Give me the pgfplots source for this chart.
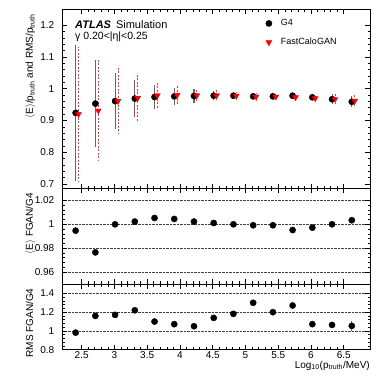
\documentclass[border=0pt]{standalone}
\usepackage{fontspec}
\setmainfont{Liberation Sans}
\usepackage{pgfplots}
\usepackage{pgfplotstable}
\pgfplotsset{compat=1.18}

\pgfplotstableread{
x m e
2.408 0.924 0.215
2.709 0.953 0.136
3.010 0.961 0.088
3.311 0.969 0.059
3.612 0.974 0.039
3.913 0.976 0.027
4.214 0.977 0.021
4.515 0.978 0.014
4.816 0.978 0.011
5.117 0.976 0.009
5.418 0.976 0.009
5.719 0.978 0.009
6.020 0.973 0.010
6.321 0.967 0.015
6.622 0.959 0.018
}\gfour

\pgfplotstableread{
x m e
2.453 0.920 0.211
2.754 0.931 0.158
3.055 0.961 0.103
3.356 0.971 0.072
3.657 0.979 0.043
3.958 0.980 0.029
4.259 0.979 0.022
4.560 0.979 0.016
4.861 0.978 0.013
5.162 0.975 0.012
5.463 0.975 0.011
5.764 0.973 0.011
6.065 0.970 0.011
6.366 0.967 0.016
6.667 0.962 0.019
}\fgan

\pgfplotstableread{
x r re s se
2.408 0.9947 0.0030 0.982 0.020
2.709 0.9765 0.0010 1.160 0.015
3.010 1.0000 0.0008 1.171 0.015
3.311 1.0023 0.0008 1.220 0.020
3.612 1.0053 0.0005 1.100 0.010
3.913 1.0045 0.0005 1.072 0.010
4.214 1.0023 0.0004 1.050 0.010
4.515 1.0011 0.0004 1.139 0.010
4.816 1.0000 0.0004 1.182 0.010
5.117 0.9992 0.0004 1.300 0.010
5.418 0.9992 0.0004 1.200 0.010
5.719 0.9952 0.0004 1.271 0.010
6.020 0.9972 0.0004 1.072 0.010
6.321 1.0000 0.0004 1.064 0.015
6.622 1.0034 0.0005 1.054 0.050
}\ratio

\pgfplotsset{
  panel/.style={
    scale only axis, width=308pt, anchor=north west,
    xmin=2.2, xmax=6.9,
    xtick={2.5,3,3.5,4,4.5,5,5.5,6,6.5}, minor x tick num=4,
    tick align=inside, major tick length=5pt, minor tick length=2.5pt,
    axis line style={line width=0.8pt},
    tick style={black, line width=0.6pt},
    /pgf/number format/assume math mode=true,
    /pgf/number format/fixed,
    ticklabel style={font=\fontsize{10}{12}\selectfont},
    yticklabel style={inner sep=0pt, xshift=-7.5pt},
    xticklabel style={inner sep=0pt, yshift=-2pt},
    every axis y label/.style={at={(rel axis cs:0,1)}, xshift=-29pt, yshift=-1pt,
      rotate=90, anchor=base east, font=\fontsize{10}{12}\selectfont},
  },
  gmark/.style={only marks, mark=*, mark size=3.1pt, color=black,
    mark options={fill=black, draw=black, solid},
    error bars/.cd, y dir=both, y explicit, error mark=none,
    error bar style={line width=1.1pt, black!60}},
}

\begin{document}
\begin{tikzpicture}
\useasboundingbox (0,0) rectangle (390pt,-379pt);

% top panel
\begin{axis}[panel, at={(62pt,-9.3pt)}, height=179.2pt,
  ymin=0.686, ymax=1.25, ytick={0.7,0.8,0.9,1,1.1,1.2}, minor y tick num=4,
  xticklabels={},
  ylabel={$\langle$E$\rangle$/p\textsubscript{truth} and RMS/p\textsubscript{truth}},
  legend style={at={(axis description cs:0.661,0.955)}, anchor=north west,
    draw=none, fill=none, font=\fontsize{9}{11}\selectfont,
    row sep=7pt, inner sep=0pt, cells={anchor=west},
    /tikz/every odd column/.append style={column sep=7pt}},
  legend cell align=left,
]
\addplot[gmark] table[x=x, y=m, y error=e] {\gfour};
\addlegendentry{G4}
\addplot[only marks, mark=triangle*, mark size=3.4pt, color=red,
  mark options={rotate=180, solid, fill=red, draw=red},
  error bars/.cd, y dir=both, y explicit, error mark=none,
  error bar style={red!80, dash pattern=on 2pt off 1.5pt, line width=0.9pt}]
  table[x=x, y=m, y error=e] {\fgan};
\addlegendentry{FastCaloGAN}
\end{axis}

% middle panel
\begin{axis}[panel, at={(62pt,-188.5pt)}, height=95.5pt,
  ymin=0.95, ymax=1.03, ytick={0.96,0.98,1,1.02}, minor y tick num=4,
  xticklabels={},
  ymajorgrids, major grid style={densely dotted, black!75, line width=0.6pt},
  ylabel={$\langle$E$\rangle$ FGAN/G4},
]
\addplot[gmark] table[x=x, y=r, y error=re] {\ratio};
\end{axis}

% bottom panel
\begin{axis}[panel, at={(62pt,-284pt)}, height=65.7pt,
  ymin=0.8, ymax=1.5, ytick={0.8,1,1.2,1.4}, minor y tick num=4,
  ymajorgrids, major grid style={densely dotted, black!75, line width=0.6pt},
  ylabel={RMS FGAN/G4},
]
\addplot[gmark] table[x=x, y=s, y error=se] {\ratio};
\end{axis}

\node[anchor=base west, font=\fontsize{11}{13}\selectfont, inner sep=0pt]
  at (75pt,-28.5pt) {\textbf{\textit{ATLAS}}\hspace{5pt}Simulation};
\node[anchor=base west, font=\fontsize{10.5}{12}\selectfont, inner sep=0pt]
  at (75pt,-39.5pt) {γ 0.20<|η|<0.25};
\node[anchor=base east, font=\fontsize{10}{12}\selectfont, inner sep=0pt]
  at (370pt,-368pt) {Log\textsubscript{10}(p\textsubscript{truth}/MeV)};
\end{tikzpicture}
\end{document}
